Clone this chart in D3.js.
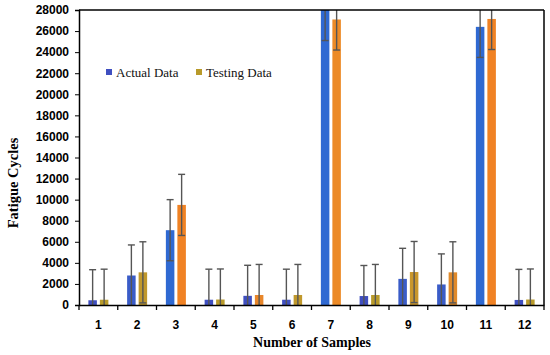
<!DOCTYPE html>
<html><head><meta charset="utf-8">
<script src="https://cdn.jsdelivr.net/npm/d3@7"></script>
<style>body{margin:0;background:#fff}svg{display:block}</style>
</head><body>
<script>
const categories = ["1","2","3","4","5","6","7","8","9","10","11","12"];
const actual  = [450, 2800, 7100, 500, 870, 500, 28000, 850, 2480, 1950, 26400, 480];
const testing = [500, 3100, 9500, 520, 950, 950, 27100, 950, 3130, 3100, 27150, 520];
const errorValue = 2900;
const yTicks = [0,2000,4000,6000,8000,10000,12000,14000,16000,18000,20000,22000,24000,26000,28000];
const seriesNames = ["Actual Data", "Testing Data"];
const actualColors  = ["#3f4fc0","#3a5cc8","#2f69d2","#3f4fc0","#3f4fc0","#3f4fc0","#2f69d2","#3f4fc0","#3a5cc8","#3a5cc8","#2f69d2","#3f4fc0"];
const testingColors = ["#b89a2a","#c0982c","#f08224","#b89a2a","#e8862a","#c0982c","#ec8a26","#b89a2a","#c8962c","#e08a2a","#f08224","#b89a2a"];

const W = 550, H = 355;
const m = {l: 79, r: 544, t: 10, b: 305};
const svg = d3.select("body").append("svg").attr("width", W).attr("height", H);

const x = d3.scaleBand().domain(categories).range([m.l, m.r]);
const xi = d3.scaleBand().domain(["a","t"]).range([0, x.bandwidth()]).paddingInner(0.26).paddingOuter(0.815);
const y = d3.scaleLinear().domain([0, 28000]).range([m.b, m.t]);

svg.append("defs").append("clipPath").attr("id","clip")
  .append("rect").attr("x", m.l).attr("y", m.t).attr("width", m.r - m.l).attr("height", m.b - m.t);

const data = categories.map((c,i) => ({c, i, a: actual[i], t: testing[i]}));
const g = svg.append("g").attr("clip-path","url(#clip)");

// bars
g.selectAll(".ba").data(data).join("rect")
  .attr("x", d => x(d.c) + xi("a")).attr("width", xi.bandwidth())
  .attr("y", d => y(d.a)).attr("height", d => y(0) - y(d.a))
  .attr("fill", d => actualColors[d.i]);
g.selectAll(".bt").data(data).join("rect")
  .attr("x", d => x(d.c) + xi("t")).attr("width", xi.bandwidth())
  .attr("y", d => y(d.t)).attr("height", d => y(0) - y(d.t))
  .attr("fill", d => testingColors[d.i]);

// error bars
const errs = [];
data.forEach(d => {
  errs.push({cx: x(d.c) + xi("a") + xi.bandwidth()/2, v: d.a});
  errs.push({cx: x(d.c) + xi("t") + xi.bandwidth()/2, v: d.t});
});
const eg = g.append("g").attr("stroke", "#555").attr("stroke-width", 1.4).attr("fill","none");
errs.forEach(e => {
  const hi = e.v + errorValue, lo = e.v - errorValue;
  eg.append("line").attr("x1", e.cx).attr("x2", e.cx).attr("y1", y(lo)).attr("y2", y(hi));
  eg.append("line").attr("x1", e.cx - 3.5).attr("x2", e.cx + 3.5).attr("y1", y(hi)).attr("y2", y(hi));
  eg.append("line").attr("x1", e.cx - 3.5).attr("x2", e.cx + 3.5).attr("y1", y(lo)).attr("y2", y(lo));
});

// y axis
const ya = svg.append("g").attr("transform", `translate(${m.l},0)`)
  .call(d3.axisLeft(y).tickValues(yTicks).tickSize(4).tickPadding(6).tickFormat(d3.format("d")));
ya.select(".domain").attr("stroke","#000").attr("stroke-width",1.5);
ya.selectAll(".tick line").attr("stroke","#000");
ya.selectAll("text").attr("font-family","Liberation Sans, Arial, sans-serif").attr("font-weight","bold").attr("font-size",12).attr("fill","#000");

// x axis
const xa = svg.append("g").attr("transform", `translate(0,${m.b})`)
  .call(d3.axisBottom(x).tickSize(0).tickPadding(15));
xa.select(".domain").attr("stroke","#000").attr("stroke-width",1.5);
xa.selectAll("text").attr("font-family","Liberation Sans, Arial, sans-serif").attr("font-weight","bold").attr("font-size",12).attr("fill","#000");
const bounds = categories.map(c => x(c)).concat([m.r]);
xa.selectAll(".bt").data(bounds).join("line")
  .attr("x1", d => d).attr("x2", d => d).attr("y1", 0).attr("y2", 5)
  .attr("stroke","#000").attr("stroke-width",1.3);

// frame top/right
svg.append("line").attr("x1", m.l).attr("x2", m.r).attr("y1", m.t).attr("y2", m.t).attr("stroke","#000").attr("stroke-width",1.5);
svg.append("line").attr("x1", m.r).attr("x2", m.r).attr("y1", m.t).attr("y2", m.b).attr("stroke","#000").attr("stroke-width",1.5);

// titles
svg.append("text").attr("transform", `translate(18,183) rotate(-90)`).attr("text-anchor","middle")
  .attr("font-family","Liberation Serif, Times New Roman, serif").attr("font-weight","bold").attr("font-size",14.5)
  .text("Fatigue Cycles");
svg.append("text").attr("x", 312).attr("y", 347).attr("text-anchor","middle")
  .attr("font-family","Liberation Serif, Times New Roman, serif").attr("font-weight","bold").attr("font-size",14)
  .text("Number of Samples");

// legend
const leg = [{x: 106, c: "#3f4fc0", n: seriesNames[0]}, {x: 196, c: "#b89a2a", n: seriesNames[1]}];
leg.forEach(l => {
  svg.append("rect").attr("x", l.x).attr("y", 69).attr("width", 6).attr("height", 6).attr("fill", l.c);
  svg.append("text").attr("x", l.x + 10).attr("y", 76.5)
    .attr("font-family","Liberation Serif, Times New Roman, serif").attr("font-size",13).attr("fill","#111")
    .text(l.n);
});
</script>
</body></html>
